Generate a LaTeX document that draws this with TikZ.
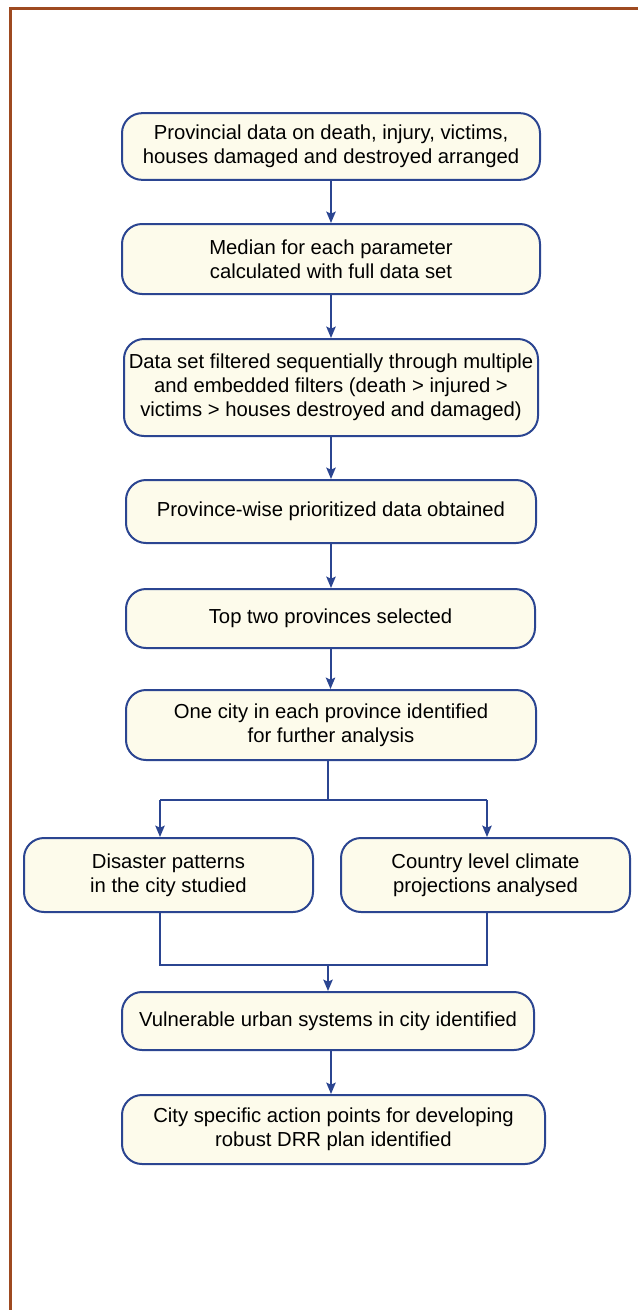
\documentclass[tikz,border=0pt]{standalone}
\usepackage{fontspec}
\setmainfont{Liberation Sans}
\usetikzlibrary{arrows.meta}
\definecolor{boxblue}{HTML}{2B4591}
\definecolor{boxfill}{HTML}{FDFBEB}
\definecolor{framebrown}{HTML}{9E4A20}
\tikzset{
  stepbox/.style={draw=boxblue,fill=boxfill,line width=1.5pt,rounded corners=15pt,
    align=center,inner sep=0pt,font=\fontsize{15.2}{18}\selectfont},
  link/.style={draw=boxblue,line width=1.5pt},
  flow/.style={link,-{Stealth[length=8.5pt,width=7pt,inset=1.5pt]}}
}

\begin{document}
\begin{tikzpicture}[x=0.75pt,y=-0.75pt]
  \useasboundingbox (0,0) rectangle (638,1310);
  \draw[framebrown,line width=2.25pt] (10,1310) -- (10,8) -- (638,8);

  \node[stepbox,minimum width=313.5pt,minimum height=50pt] (prov) at (331,146.5)
    {Provincial data on death, injury, victims,\\houses damaged and destroyed arranged};
  \node[stepbox,minimum width=313.5pt,minimum height=52.5pt] (median) at (331,259)
    {Median for each parameter\\calculated with full data set};
  \node[stepbox,minimum width=310.5pt,minimum height=72.75pt] (filter) at (331,387.5)
    {Data set filtered sequentially through multiple\\and embedded filters (death > injured >\\victims > houses destroyed and damaged)};
  \node[stepbox,minimum width=307.5pt,minimum height=47.25pt] (prior) at (331,511.5)
    {Province-wise prioritized data obtained};
  \node[stepbox,minimum width=306.75pt,minimum height=44.25pt] (toptwo) at (330.5,618.5)
    {Top two provinces selected};
  \node[stepbox,minimum width=307.5pt,minimum height=52.5pt] (city) at (331,725)
    {One city in each province identified\\for further analysis};
  \node[stepbox,minimum width=216.75pt,minimum height=55.5pt] (disaster) at (168.5,875)
    {Disaster patterns\\in the city studied};
  \node[stepbox,minimum width=216.75pt,minimum height=55.5pt] (climate) at (485.5,875)
    {Country level climate\\projections analysed};
  \node[stepbox,minimum width=309pt,minimum height=43.5pt] (vuln) at (328,1021)
    {Vulnerable urban systems in city identified};
  \node[stepbox,minimum width=317.25pt,minimum height=51.75pt] (action) at (333.5,1129.5)
    {City specific action points for developing\\robust DRR plan identified};

  \coordinate (forkL) at (160,800);
  \coordinate (forkR) at (487,800);
  \coordinate (join) at (328,965);

  \draw[flow] (prov) -- (median);
  \draw[flow] (median) -- (filter);
  \draw[flow] (filter) -- (prior);
  \draw[flow] (prior) -- (prior |- toptwo.north);
  \draw[flow] (toptwo) -- (toptwo |- city.north);
  \draw[link] (forkL) -| (join |- city.south) |- (forkR);
  \draw[flow] (forkL) -- (forkL |- disaster.north);
  \draw[flow] (forkR) -- (forkR |- climate.north);
  \draw[link] (forkL |- disaster.south) |- (join) -| (forkR |- climate.south);
  \draw[flow] (join) -- (join |- vuln.north);
  \draw[flow] (prior |- vuln.south) -- (prior |- action.north);
\end{tikzpicture}
\end{document}
